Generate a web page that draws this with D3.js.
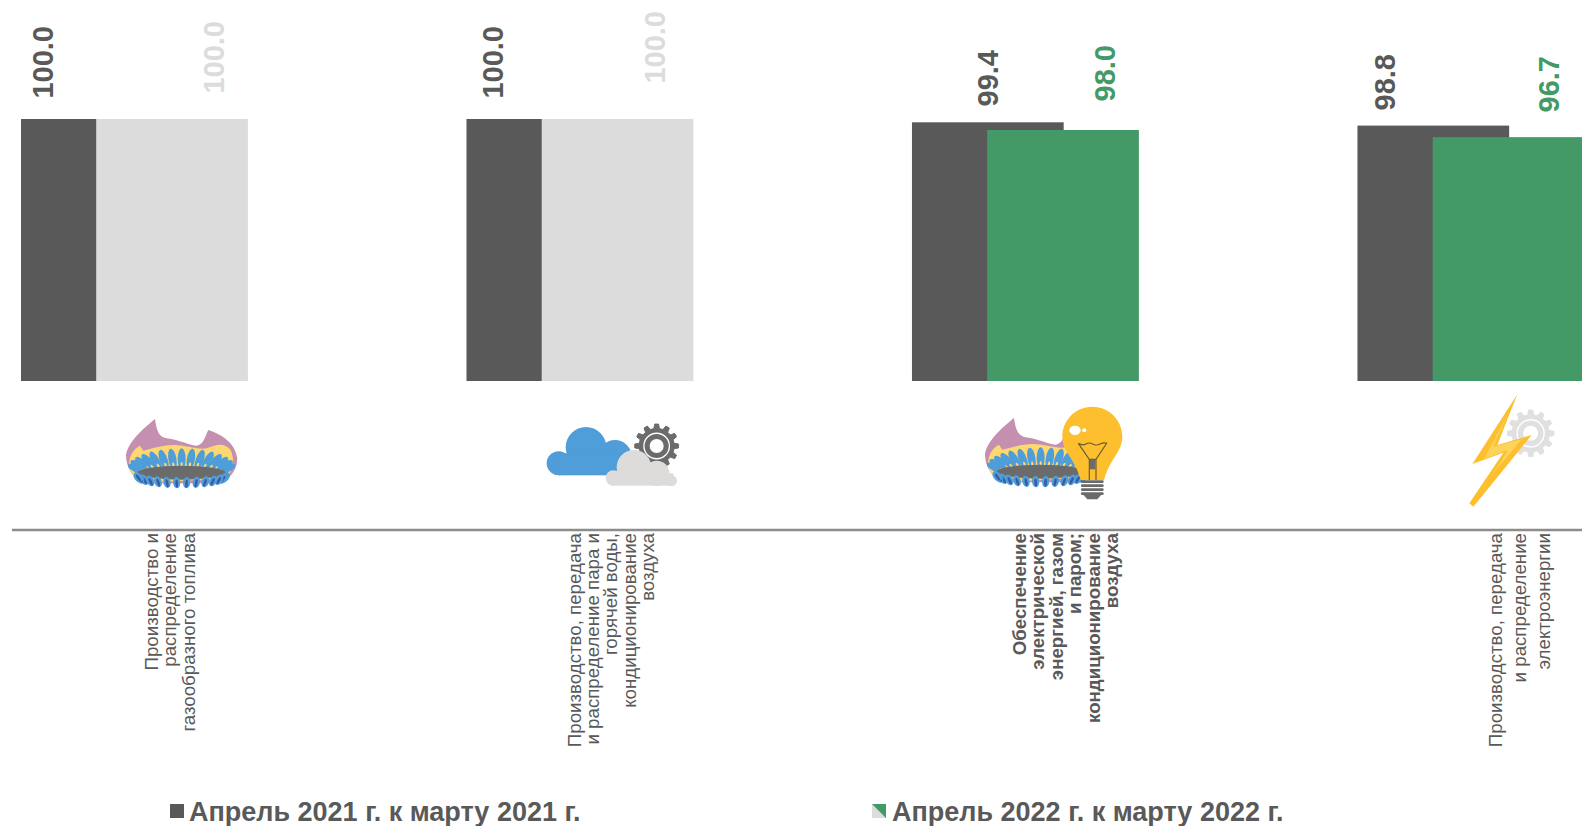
<!DOCTYPE html>
<html lang="ru"><head><meta charset="utf-8">
<script src="https://cdn.jsdelivr.net/npm/d3@7"></script>
<style>html,body{margin:0;padding:0;background:#fff;overflow:hidden}svg{display:block}text{font-family:"Liberation Sans",Arial,sans-serif}</style>
</head><body><div id="chart"></div>
<script>
const categories = ["gas","steam","supply","power"];
const series2021 = [100.0,100.0,99.4,98.8];
const series2022 = [100.0,100.0,98.0,96.7];
const seriesNames = ["Апрель 2021 г. к марту 2021 г.","Апрель 2022 г. к марту 2022 г."];
const categoryLines = [
  ["Производство и","распределение","газообразного топлива"],
  ["Производство, передача","и распределение пара и","горячей воды,","кондиционирование","воздуха"],
  ["Обеспечение","электрической","энергией, газом","и паром;","кондиционирование","воздуха"],
  ["Производство, передача","и распределение","электроэнергии"]
];
const boldCategory = [false,false,true,false];
// label layout (x centre, y of the label's upper end)
const labelX2021=[43,492.5,988,1385], labelTop2021=[26,26,50,54];
const labelX2022=[214,655,1105,1549], labelTop2022=[21,11,45,56];
const lineX0=[151,574,1019,1495], lineStep=[18.5,18.4,18.5,24];

const W=1582,H=826,DARK="#595959",LIGHT="#dcdcdc",GREEN="#439a66",BLUE="#4f9dd9",YEL="#fdbf2d",GEAR="#6b6b6b";
const svg=d3.select("#chart").append("svg").attr("width",W).attr("height",H);
const x=d3.scaleBand().domain(categories).range([21,1583.5]).paddingInner(0.4926).paddingOuter(0);
const barW=151.7, off=75.2;
const y=d3.scaleLinear().domain([52.36,100]).range([381,119]);

[series2021,series2022].forEach((s,k)=>{
  svg.append("g").selectAll("rect").data(s).join("rect")
    .attr("x",(d,i)=>x(categories[i])+k*off).attr("width",barW)
    .attr("y",d=>y(d)).attr("height",d=>y.range()[0]-y(d))
    .attr("fill",d=>k===0?DARK:(d>=100?LIGHT:GREEN));
});
const fmt=d3.format(".1f");
function vlabels(s,xs,tops,col){
  svg.append("g").selectAll("text").data(s).join("text")
    .attr("transform",(d,i)=>`translate(${xs[i]},${tops[i]}) rotate(-90)`)
    .attr("text-anchor","end").attr("dominant-baseline","central")
    .attr("font-size",29).attr("font-weight","bold").attr("fill",col).text(fmt);
}
vlabels(series2021,labelX2021,labelTop2021,()=>DARK);
vlabels(series2022,labelX2022,labelTop2022,d=>d>=100?LIGHT:GREEN);

svg.append("line").attr("x1",12).attr("x2",W).attr("y1",530).attr("y2",530).attr("stroke","#8c8c8c").attr("stroke-width",2.4);

categoryLines.forEach((ls,c)=>{
  svg.append("g").selectAll("text").data(ls).join("text")
    .attr("transform",(d,i)=>`translate(${lineX0[c]+i*lineStep[c]},533) rotate(-90)`)
    .attr("text-anchor","end").attr("dominant-baseline","central")
    .attr("font-size",18.7).attr("font-weight",boldCategory[c]?"bold":"normal").attr("fill",DARK).text(d=>d);
});

// icons
function gear(g,cx,cy,R,col,teeth){
  const pts=[];const n=teeth;
  for(let i=0;i<n;i++){const a=i/n*2*Math.PI,w=2*Math.PI/n;
    [[-.3,R*.8],[-.17,R],[.17,R],[.3,R*.8]].forEach(([f,r])=>pts.push([cx+r*Math.cos(a+f*w),cy+r*Math.sin(a+f*w)]));}
  g.append("path").attr("d",d3.line().curve(d3.curveLinearClosed)(pts)).attr("fill",col).attr("stroke",col).attr("stroke-width",3).attr("stroke-linejoin","round");
  g.append("circle").attr("cx",cx).attr("cy",cy).attr("r",R*.58).attr("fill","none").attr("stroke","#fff").attr("stroke-width",R*.06);
  g.append("circle").attr("cx",cx).attr("cy",cy).attr("r",R*.32).attr("fill","#fff");
}
function burner(t){
  const g=svg.append("g").attr("transform",t);
  g.append("path").attr("fill","#c58fb0").attr("d","M465,117C470,150 475,170 500,175C540,180 565,195 590,197C610,195 615,170 625,150C670,165 705,190 712,235C712,265 695,295 660,310L430,310C400,295 378,265 378,225C385,185 430,145 465,117Z");
  g.append("path").attr("fill","#fdd870").attr("d","M388,265C385,235 395,210 420,197L430,212C460,205 490,195 520,195C560,195 590,210 620,205C650,195 670,185 692,210C705,240 700,270 680,295L430,310C410,300 395,285 388,265Z");
  const n=15;
  for(let i=0;i<n;i++){const a=-Math.PI*(0.03+0.94*i/(n-1));
    const px=545+132*Math.cos(a),py=270+33*Math.sin(a),rot=(a*180/Math.PI+90)*0.8;
    g.append("ellipse").attr("cx",px).attr("cy",py).attr("rx",12).attr("ry",32).attr("transform",`rotate(${rot} ${px} ${py})`).attr("fill",BLUE);
    g.append("ellipse").attr("cx",px).attr("cy",py+18).attr("rx",3.5).attr("ry",9).attr("transform",`rotate(${rot} ${px} ${py})`).attr("fill","#fdd870");
  }
  g.append("ellipse").attr("cx",545).attr("cy",278).attr("rx",132).attr("ry",21).attr("fill",GEAR);
  const m=14;
  for(let i=0;i<m;i++){const a=Math.PI*(0.03+0.94*i/(m-1));
    const px=545+132*Math.cos(a),py=290+18*Math.sin(a),rot=35*Math.cos(a);
    g.append("ellipse").attr("cx",px).attr("cy",py).attr("rx",11).attr("ry",17).attr("transform",`rotate(${rot} ${px} ${py})`).attr("fill",BLUE);
    g.append("ellipse").attr("cx",px).attr("cy",py+3).attr("rx",4).attr("ry",12).attr("transform",`rotate(${rot} ${px} ${py})`).attr("fill","#3a5ba0");
  }
}
burner("translate(0,380) scale(.3333)");
burner("translate(859,379) scale(.3333)");

// cloud + gear
const c=svg.append("g").attr("transform","translate(500,390) scale(.3333)");
gear(c,470,168,66,GEAR,12);
function cloud(cs,rect,col){cs.forEach(p=>c.append("circle").attr("cx",p[0]).attr("cy",p[1]).attr("r",p[2]).attr("fill",col));
  c.append("rect").attr("x",rect[0]).attr("y",rect[1]).attr("width",rect[2]).attr("height",rect[3]).attr("fill",col);}
cloud([[176,220,36],[258,172,61],[345,200,50]],[176,190,215,66],BLUE);
cloud([[402,232,52],[340,264,23],[470,250,38],[515,272,16]],[335,250,185,37],"#dddcdb");

// lamp
const b=svg.append("g").attr("transform","translate(960,390) scale(.3333)");
b.append("path").attr("fill",YEL).attr("d","M397,50C345,50 307,92 307,140C307,185 345,205 362,270L432,270C450,205 487,185 487,140C487,92 449,50 397,50Z");
b.append("ellipse").attr("cx",345).attr("cy",121).attr("rx",17).attr("ry",14).attr("fill","#fff");
b.append("circle").attr("cx",373).attr("cy",121).attr("r",6).attr("fill","#fff");
b.append("path").attr("fill","none").attr("stroke","#6b5a2a").attr("stroke-width",3.5).attr("d","M355,160Q368,168 378,162T398,162T420,162T440,160L408,208V270M355,160L388,208V270M388,208H408");
b.append("rect").attr("x",390).attr("y",208).attr("width",16).attr("height",30).attr("fill",GEAR);
[275,287,299,311].forEach(v=>b.append("rect").attr("x",363).attr("y",v-4).attr("width",68).attr("height",8).attr("rx",3).attr("fill",GEAR));
b.append("path").attr("d","M368,312H426L412,328H382Z").attr("fill",GEAR);

// bolt + gear
const l=svg.append("g").attr("transform","translate(1440,385) scale(.3333)");
gear(l,272,145,70,"#e0e0e0",12);
l.append("path").attr("fill",YEL).attr("d","M232,28L97,237L190,203L88,355L100,365L275,150L172,180Z");
l.append("path").attr("fill","#fdd35c").attr("d","M205,85L132,222L205,195L160,265L245,163L160,185Z");

// legend
const lg=svg.append("g");
lg.append("rect").attr("x",170).attr("y",804).attr("width",14).attr("height",14).attr("fill",DARK);
lg.append("path").attr("d","M872,804H886V818H872Z").attr("fill",LIGHT);
lg.append("path").attr("d","M872,804H886V818Z").attr("fill",GREEN);
lg.selectAll("text").data(seriesNames).join("text").attr("x",(d,i)=>i?892:189).attr("y",821)
  .attr("font-size",27).attr("font-weight","bold").attr("fill",DARK).text(d=>d);
</script></body></html>
